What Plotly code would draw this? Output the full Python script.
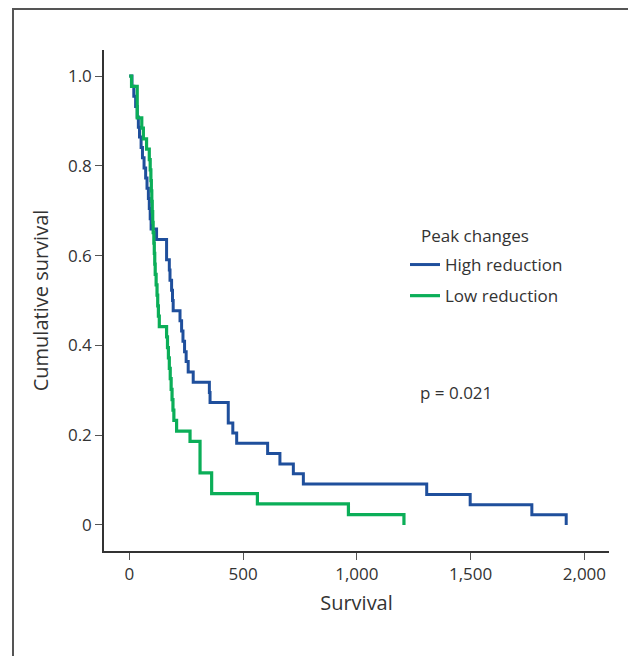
import plotly.graph_objects as go

# ---- data ----
high_t = [0, 12, 20, 28, 35, 40, 45, 52, 58, 65, 72, 78, 84, 88, 92, 96, 120, 164, 176, 179,
          186, 190, 193, 223, 230, 236, 243, 250, 259, 281, 352, 355, 435, 455, 472, 608,
          662, 721, 765, 1307, 1498, 1769, 1920]
high_s = [1.0, 0.977, 0.955, 0.932, 0.909, 0.886, 0.864, 0.841, 0.818, 0.795, 0.773, 0.750,
          0.727, 0.705, 0.682, 0.659, 0.636, 0.591, 0.568, 0.545, 0.523, 0.500, 0.477, 0.455,
          0.432, 0.409, 0.386, 0.364, 0.341, 0.318, 0.295, 0.273, 0.227, 0.205, 0.182, 0.159,
          0.136, 0.114, 0.091, 0.068, 0.045, 0.023, 0.0]

low_t = [0, 10, 35, 55, 62, 76, 88, 92, 95, 97, 99, 101, 103, 105, 108, 110, 112, 114, 118,
         122, 125, 128, 132, 164, 168, 172, 176, 180, 184, 188, 192, 196, 208, 267, 311, 362,
         563, 963, 1207]
low_s = [1.0, 0.977, 0.907, 0.884, 0.860, 0.837, 0.814, 0.791, 0.767, 0.744, 0.721, 0.698,
         0.674, 0.651, 0.628, 0.605, 0.581, 0.558, 0.535, 0.512, 0.488, 0.465, 0.442, 0.419,
         0.395, 0.372, 0.349, 0.326, 0.302, 0.279, 0.256, 0.233, 0.209, 0.186, 0.116, 0.070,
         0.047, 0.023, 0.0]

series_names = ["High reduction", "Low reduction"]
legend_title = "Peak changes"
x_ticks = [0, 500, 1000, 1500, 2000]
x_tick_labels = ["0", "500", "1,000", "1,500", "2,000"]
y_ticks = [0, 0.2, 0.4, 0.6, 0.8, 1.0]
y_tick_labels = ["0", "0.2", "0.4", "0.6", "0.8", "1.0"]
p_text = "p = 0.021"

BLUE = "#1f4f9c"
GREEN = "#0bae58"
FONT = "Open Sans, Noto Sans, DejaVu Sans, sans-serif"
FS = 17

# page is offset by the 8px body margin
OFF = 8
W, H = 636 - OFF, 656 - OFF
PL, PR, PT, PB = 104, 609, 50, 551          # plot area in page pixels
L, R, T, B = PL - OFF, W - (PR - OFF), PT - OFF, H - (PB - OFF)
pw, ph = W - L - R, H - T - B


def px(x):  # page pixel -> paper x
    return (x - OFF - L) / pw


def py(y):  # page pixel -> paper y
    return (H - B - (y - OFF)) / ph


fig = go.Figure()
fig.add_trace(go.Scatter(x=high_t, y=high_s, mode="lines", line_shape="hv",
                         line=dict(color=BLUE, width=3), name=series_names[0],
                         legendgroup="a"))
fig.add_trace(go.Scatter(x=low_t, y=low_s, mode="lines", line_shape="hv",
                         line=dict(color=GREEN, width=3.2), name=series_names[1],
                         legendgroup="b"))

fig.add_annotation(x=1270, y=0.296, xref="x", yref="y", text=p_text, showarrow=False,
                   xanchor="left", yanchor="middle", font=dict(size=FS, color="#333333"))
fig.add_annotation(x=px(419), y=py(235), xref="paper", yref="paper", text=legend_title,
                   showarrow=False, xanchor="left", yanchor="middle",
                   font=dict(size=FS, color="#333333"))

# outer frame (left and top edges)
fig.add_shape(type="line", xref="paper", yref="paper", x0=px(13), x1=px(13),
              y0=py(9), y1=py(700), line=dict(color="#555555", width=2))
fig.add_shape(type="line", xref="paper", yref="paper", x0=px(12), x1=px(700),
              y0=py(9), y1=py(9), line=dict(color="#555555", width=2))

fig.update_layout(
    width=W, height=H,
    margin=dict(l=L, r=R, t=T, b=B, autoexpand=False),
    paper_bgcolor="white", plot_bgcolor="white",
    font=dict(family=FONT, size=FS, color="#333333"),
    showlegend=True,
    legend=dict(x=px(405), y=py(247), xanchor="left", yanchor="top",
                font=dict(size=FS), tracegroupgap=6, bgcolor="rgba(0,0,0,0)"),
    xaxis=dict(range=[-111, 2108], tickvals=x_ticks, ticktext=x_tick_labels,
               showline=True, linecolor="#333333", linewidth=1.5, ticks="outside",
               ticklen=7, tickcolor="#555555", tickwidth=1, showgrid=False, zeroline=False,
               title=dict(text="Survival", standoff=12), tickfont=dict(size=FS)),
    yaxis=dict(range=[-0.058, 1.058], tickvals=y_ticks, ticktext=y_tick_labels,
               showline=True, linecolor="#333333", linewidth=1.5, ticks="outside",
               ticklen=7, tickcolor="#555555", tickwidth=1, showgrid=False, zeroline=False,
               title=dict(text="Cumulative survival", standoff=14), tickfont=dict(size=FS)),
)

fig.write_html("out.html")
